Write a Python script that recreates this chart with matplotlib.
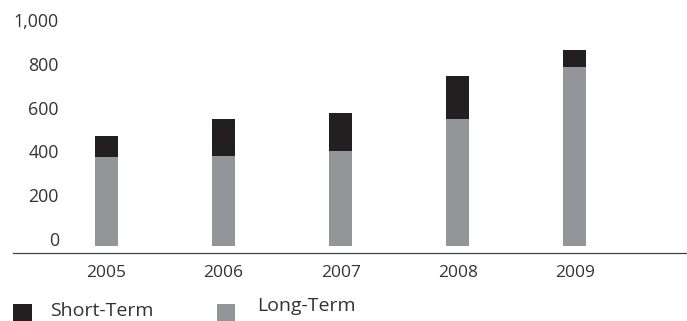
import matplotlib
matplotlib.use("Agg")
import matplotlib.pyplot as plt
from matplotlib.patches import Rectangle
import numpy as np

plt.rcParams['font.family'] = ['Open Sans', 'DejaVu Sans']

years = ['2005', '2006', '2007', '2008', '2009']
long_term = [405, 410, 435, 580, 815]
short_term = [95, 170, 170, 195, 80]
y_ticks = [0, 200, 400, 600, 800, 1000]
y_tick_labels = ['0', '200', '400', '600', '800', '1,000']

DARK = '#231f20'
GREY = '#939598'
TEXT = '#333333'

W, H = 687, 321
fig = plt.figure(figsize=(W / 100, H / 100), dpi=100)

# axes box in pixel coordinates: left, bottom spine, top
left_px, spine_px, top_px = 13, 252.7, 5
ax = fig.add_axes([left_px / W, (H - spine_px) / H, (W - left_px) / W, (spine_px - top_px) / H])

x = np.arange(len(years))
bar_w = 0.197
ax.bar(x, long_term, width=bar_w, color=GREY, linewidth=0)
ax.bar(x, short_term, bottom=long_term, width=bar_w, color=DARK, linewidth=0)

ax.set_xlim(-0.80, 4.96)
ax.set_ylim(-30.6, 1100)

for side in ('left', 'right', 'top'):
    ax.spines[side].set_visible(False)
ax.spines['bottom'].set_color('#444444')
ax.spines['bottom'].set_linewidth(0.9)

ax.set_xticks(x)
ax.set_xticklabels(years, fontsize=12.5, color=TEXT)
ax.tick_params(axis='x', length=0, pad=9)

ax.set_yticks(y_ticks)
ax.set_yticklabels(y_tick_labels, fontsize=12.8, color=TEXT)
ax.tick_params(axis='y', length=0, pad=-33.1)
for lbl in ax.get_yticklabels():
    lbl.set_verticalalignment('baseline')

# legend keys and labels, placed in figure pixels
def fig_xy(xp, yp):
    return xp / W, (H - yp) / H

def add_key(x0, x1, y0, color):
    fx0, fy1 = fig_xy(x0, y0)
    fx1, fy0 = fig_xy(x1, y0 + 19)
    fig.patches.append(Rectangle((fx0, fy0), fx1 - fx0, fy1 - fy0,
                                 transform=fig.transFigure, color=color, linewidth=0))

add_key(13, 32, 304, DARK)
add_key(217, 235, 304, GREY)
fig.text(*fig_xy(50, 315.5), 'Short-Term', fontsize=14, color=TEXT, va='baseline', ha='left')
fig.text(*fig_xy(257, 311), 'Long-Term', fontsize=14, color=TEXT, va='baseline', ha='left')

fig.savefig('out.png', dpi=100)
